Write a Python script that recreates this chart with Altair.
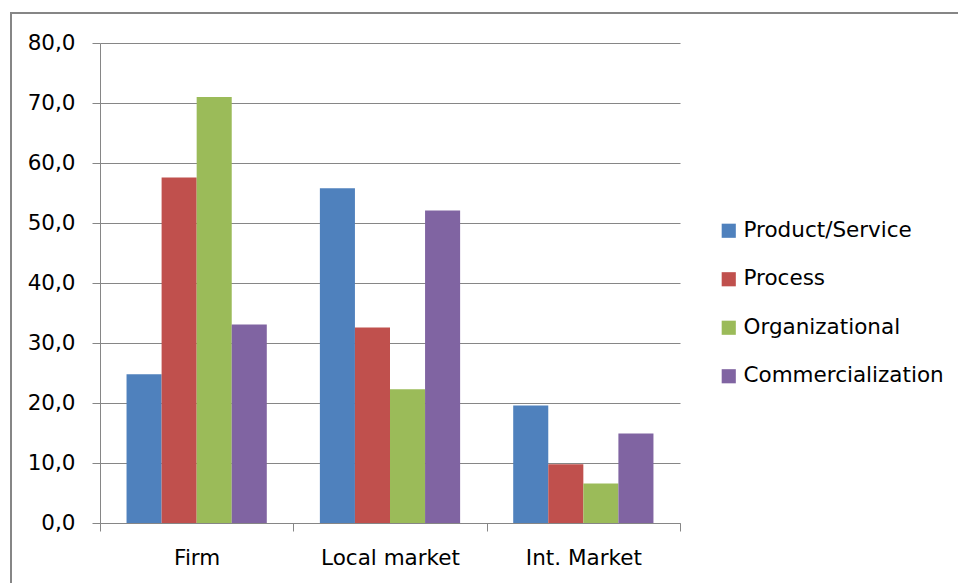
import altair as alt
import pandas as pd

categories = ["Firm", "Local market", "Int. Market"]
series = ["Product/Service", "Process", "Organizational", "Commercialization"]
product_service = [24.8, 55.8, 19.6]
process = [57.6, 32.6, 9.8]
organizational = [71.0, 22.3, 6.6]
commercialization = [33.1, 52.1, 14.9]
colors = ["#4F81BD", "#C0504D", "#9BBB59", "#8064A2"]
y_ticks = [0, 10, 20, 30, 40, 50, 60, 70, 80]

rows = []
for s, vals in zip(series, [product_service, process, organizational, commercialization]):
    for c, v in zip(categories, vals):
        rows.append({"category": c, "series": s, "value": v})
df = pd.DataFrame(rows)

FONT = "DejaVu Sans"
GRAY = "#868686"
FS = 21.5

border = alt.Chart(pd.DataFrame({"k": [0]})).mark_rect(
    fill=None, stroke=GRAY, strokeWidth=2
).encode(
    x=alt.value(-89), x2=alt.value(870), y=alt.value(-30), y2=alt.value(560)
)

bars = alt.Chart(df).mark_bar().encode(
    x=alt.X("category:N", sort=categories, title=None,
            scale=alt.Scale(paddingInner=0, paddingOuter=0),
            axis=alt.Axis(labelAngle=0, tickBand="extent", labelFontSize=FS,
                          labelFont=FONT, labelColor="black", tickSize=8,
                          labelPadding=16, domainColor=GRAY, tickColor=GRAY,
                          grid=False)),
    xOffset=alt.XOffset("series:N", sort=series,
                        scale=alt.Scale(paddingOuter=0.757, paddingInner=0)),
    y=alt.Y("value:Q", title=None,
            scale=alt.Scale(domain=[0, 80], nice=False),
            axis=alt.Axis(values=y_ticks,
                          labelExpr="replace(format(datum.value, '.1f'), '.', ',')",
                          labelFontSize=FS, labelFont=FONT, labelColor="black",
                          tickSize=8, labelPadding=17, domainColor=GRAY,
                          tickColor=GRAY, gridColor=GRAY, grid=True)),
    color=alt.Color("series:N", sort=series,
                    scale=alt.Scale(domain=series, range=colors),
                    legend=alt.Legend(title=None, orient="none", legendX=618,
                                      legendY=177, symbolType="square",
                                      symbolSize=200, symbolStrokeWidth=0,
                                      labelFontSize=FS, labelFont=FONT,
                                      labelColor="black", rowPadding=25.5,
                                      labelOffset=4, padding=0, labelLimit=0)),
)

chart = alt.layer(border, bars).properties(
    width=580, height=480,
    autosize=alt.AutoSizeParams(type="none"),
    padding={"left": 100, "top": 43, "right": 278, "bottom": 60},
    background="white",
).configure_view(stroke=None)

chart.save("out.html", embed_options={"renderer": "svg", "actions": False})
